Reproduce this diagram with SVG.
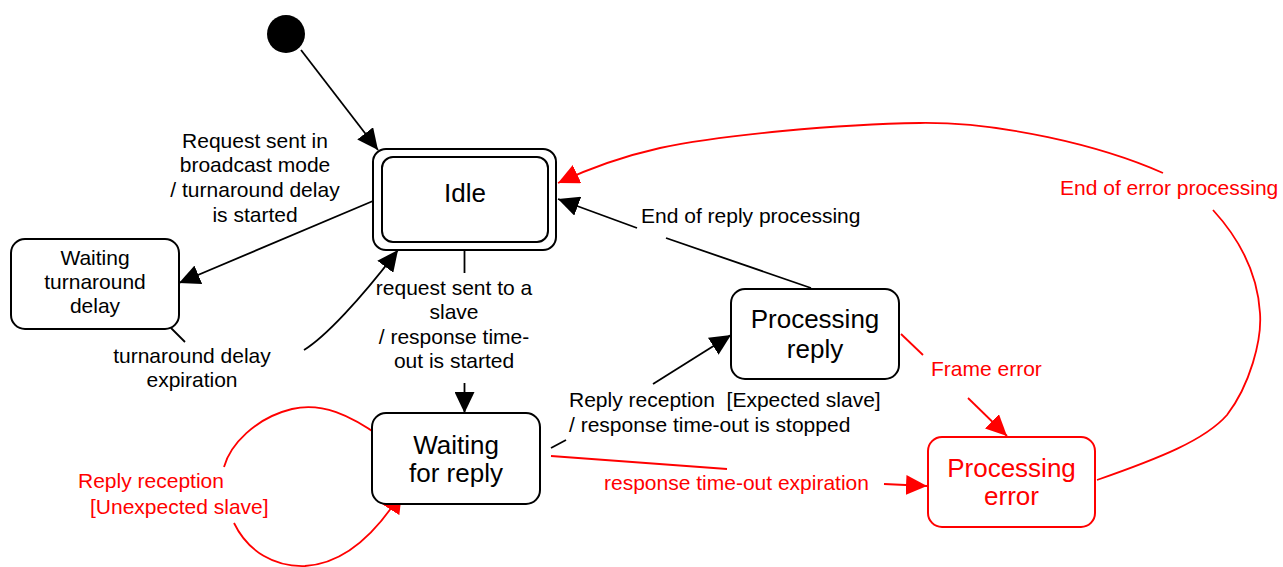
<svg xmlns="http://www.w3.org/2000/svg" width="1283" height="567" viewBox="0 0 1283 567">
<style>
text{font-family:"Liberation Sans",Arial,sans-serif;fill:#000;white-space:pre}
.lbl{font-size:21px}
.nt{font-size:26px}
.red{fill:#ff0000}
.box{fill:#fff;stroke:#000;stroke-width:2}
.rbox{fill:#fff;stroke:#ff0000;stroke-width:2}
.c{fill:none;stroke:#000;stroke-width:1.8}
.rc{fill:none;stroke:#ff0000;stroke-width:1.8}
</style>
<defs>
<marker id="ah" viewBox="0 0 21 20" refX="21" refY="10" markerWidth="21" markerHeight="20" orient="auto" markerUnits="userSpaceOnUse"><path d="M0,0 L21,10 L0,20 Z" fill="#000"/></marker>
<marker id="rah" viewBox="0 0 21 20" refX="21" refY="10" markerWidth="21" markerHeight="20" orient="auto" markerUnits="userSpaceOnUse"><path d="M0,0 L21,10 L0,20 Z" fill="#ff0000"/></marker>
</defs>
<rect width="1283" height="567" fill="#fff"/>
<g id="connectors">
<path class="c" d="M301,50 L378,150" marker-end="url(#ah)"/>
<path class="c" d="M373,201 L179,283" marker-end="url(#ah)"/>
<path class="c" d="M171,328 L185,342"/>
<path class="c" d="M304,350 C325,337 360,300 398,250" marker-end="url(#ah)"/>
<path class="c" d="M464.5,242 L464.5,273"/>
<path class="c" d="M464.5,383 L464.5,413" marker-end="url(#ah)"/>
<path class="c" d="M551,448 L566,440"/>
<path class="c" d="M653,384 L731,335" marker-end="url(#ah)"/>
<path class="c" d="M811,288 L666,238"/>
<path class="c" d="M637,228 L558,199" marker-end="url(#ah)"/>
<path class="rc" d="M551,456 L727,469"/>
<path class="rc" d="M884,484 L927,486" marker-end="url(#rah)"/>
<path class="rc" d="M901,334 L923,355"/>
<path class="rc" d="M968,398 L1007,436" marker-end="url(#rah)"/>
<path class="rc" d="M1097,480 C1160,458 1205,440 1227,415 C1250,385 1262,340 1260,313 C1258,280 1245,245 1213,210"/>
<path class="rc" d="M1163,173 C1100,145 1000,122 920,123 C840,124 720,135 660,148 C620,157 590,168 558,183" marker-end="url(#rah)"/>
<path class="rc" d="M381,437 C350,415 322,402 292,409 C255,418 230,445 224,467"/>
<path class="rc" d="M234,523 C248,552 275,567 305,566 C340,564 372,540 402,492" marker-end="url(#rah)"/>
</g>
<g id="labels">
<text class="lbl" text-anchor="middle" x="255" y="148">Request sent in</text>
<text class="lbl" text-anchor="middle" x="255" y="172">broadcast mode</text>
<text class="lbl" text-anchor="middle" x="255" y="197">/ turnaround delay</text>
<text class="lbl" text-anchor="middle" x="255" y="222">is started</text>
<text class="lbl" text-anchor="middle" x="192" y="363">turnaround delay</text>
<text class="lbl" text-anchor="middle" x="192" y="387">expiration</text>
<text class="lbl" text-anchor="middle" x="454" y="295">request sent to a</text>
<text class="lbl" text-anchor="middle" x="454" y="319">slave</text>
<text class="lbl" text-anchor="middle" x="454" y="344">/ response time-</text>
<text class="lbl" text-anchor="middle" x="454" y="368">out is started</text>
<text class="lbl" x="641" y="223">End of reply processing</text>
<text class="lbl" x="569" y="407">Reply reception  [Expected slave]</text>
<text class="lbl" x="569" y="432">/ response time-out is stopped</text>
<text class="lbl red" x="931" y="376">Frame error</text>
<text class="lbl red" x="604" y="490">response time-out expiration</text>
<text class="lbl red" x="1060" y="195">End of error processing</text>
<text class="lbl red" x="78" y="488">Reply reception</text>
<text class="lbl red" x="90" y="514">[Unexpected slave]</text>
</g>
<g id="initial">
<circle cx="286" cy="34" r="19" fill="#000"/>
</g>
<g id="idle">
<rect class="box" x="373" y="149" width="183" height="101" rx="13"/>
<rect class="box" x="382" y="157" width="166" height="85" rx="11"/>
<text class="nt" text-anchor="middle" x="465" y="202">Idle</text>
</g>
<g id="waiting-turnaround">
<rect class="box" x="11" y="239" width="168" height="90" rx="14"/>
<text class="lbl" text-anchor="middle" x="95" y="265">Waiting</text>
<text class="lbl" text-anchor="middle" x="95" y="289">turnaround</text>
<text class="lbl" text-anchor="middle" x="95" y="313">delay</text>
</g>
<g id="waiting-reply">
<rect class="box" x="372" y="413" width="168" height="91" rx="14"/>
<text class="nt" text-anchor="middle" x="456" y="454">Waiting</text>
<text class="nt" text-anchor="middle" x="456" y="482">for reply</text>
</g>
<g id="processing-reply">
<rect class="box" x="731" y="289" width="168" height="90" rx="14"/>
<text class="nt" text-anchor="middle" x="815" y="328">Processing</text>
<text class="nt" text-anchor="middle" x="815" y="358">reply</text>
</g>
<g id="processing-error">
<rect class="rbox" x="928" y="437" width="167" height="90" rx="14"/>
<text class="nt red" text-anchor="middle" x="1011.5" y="477">Processing</text>
<text class="nt red" text-anchor="middle" x="1011.5" y="505">error</text>
</g>
</svg>
